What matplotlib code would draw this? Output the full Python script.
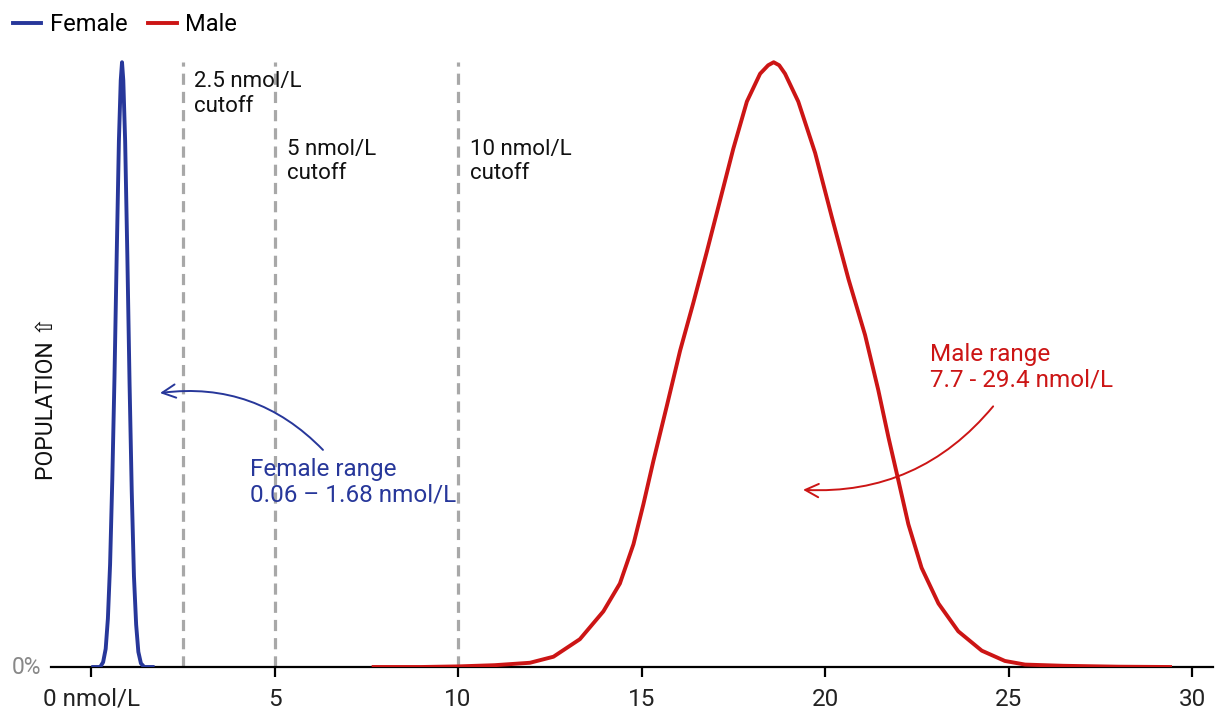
import matplotlib.pyplot as plt

plt.rcParams['font.family'] = ['Roboto', 'DejaVu Sans']

# Relative population density (peak = 1)
female_x = [0.06, 0.25, 0.33, 0.40, 0.46, 0.52, 0.58, 0.64, 0.70, 0.76, 0.81, 0.845,
            0.88, 0.93, 0.99, 1.05, 1.11, 1.17, 1.23, 1.29, 1.36, 1.45, 1.68]
female_y = [0.0, 0.0, 0.008, 0.03, 0.08, 0.17, 0.31, 0.48, 0.68, 0.87, 0.97, 1.0,
            0.97, 0.87, 0.68, 0.47, 0.29, 0.15, 0.07, 0.025, 0.006, 0.0, 0.0]

male_x = [7.7, 9.0, 10.0, 11.0, 11.96, 12.60, 13.32, 13.96, 14.41, 14.78, 15.05,
          15.32, 15.69, 16.05, 16.41, 16.78, 17.14, 17.50, 17.87, 18.23, 18.45,
          18.6, 18.75, 18.91, 19.27, 19.73, 20.18, 20.64, 21.09, 21.45, 21.73,
          22.00, 22.27, 22.63, 23.09, 23.63, 24.27, 24.90, 25.45, 26.5, 28.0, 29.4]
male_y = [0.0, 0.0, 0.001, 0.003, 0.007, 0.017, 0.046, 0.092, 0.138, 0.203, 0.269,
          0.340, 0.432, 0.523, 0.602, 0.687, 0.772, 0.857, 0.935, 0.981, 0.995,
          1.0, 0.995, 0.981, 0.935, 0.850, 0.745, 0.641, 0.549, 0.458, 0.379,
          0.308, 0.236, 0.164, 0.105, 0.059, 0.027, 0.010, 0.004, 0.002, 0.0005, 0.0]

cutoffs = [2.5, 5, 10]
cutoff_labels = ['2.5 nmol/L\ncutoff', '5 nmol/L\ncutoff', '10 nmol/L\ncutoff']

ticks = [0, 5, 10, 15, 20, 25, 30]
tick_labels = ['0 nmol/L', '5', '10', '15', '20', '25', '30']

blue = '#27379a'
red = '#cc1515'

fig = plt.figure(figsize=(12.21, 7.18), dpi=100)
ax = fig.add_axes([51 / 1221, 51 / 718, (1213 - 51) / 1221, (667 - 32) / 718])

# cutoff lines
for c in cutoffs:
    ax.plot([c, c], [0, 1.0], color='#a8a8a8', lw=2.3, ls=(0, (3.5, 2.2)), zorder=1)

ax.plot(female_x, female_y, color=blue, lw=2.8, label='Female', zorder=3,
        solid_joinstyle='round')
ax.plot(male_x, male_y, color=red, lw=2.8, label='Male', zorder=3,
        solid_joinstyle='round')

# cutoff labels
ax.text(2.81, 0.985, cutoff_labels[0], fontsize=16, va='top', ha='left',
        color='#111111', linespacing=1.2)
ax.text(5.34, 0.873, cutoff_labels[1], fontsize=16, va='top', ha='left',
        color='#111111', linespacing=1.2)
ax.text(10.33, 0.873, cutoff_labels[2], fontsize=16, va='top', ha='left',
        color='#111111', linespacing=1.2)

# range annotations
ax.text(4.33, 0.345, 'Female range\n0.06 \u2013 1.68 nmol/L', fontsize=17.5,
        va='top', ha='left', color=blue, linespacing=1.1)
ax.annotate('', xy=(1.88, 0.453), xytext=(6.32, 0.359),
            arrowprops=dict(arrowstyle='->', color=blue, lw=1.4,
                            connectionstyle='arc3,rad=0.25',
                            mutation_scale=24, shrinkA=0, shrinkB=0))

ax.text(22.86, 0.535, 'Male range\n7.7 - 29.4 nmol/L', fontsize=17.5,
        va='top', ha='left', color=red, linespacing=1.1)
ax.annotate('', xy=(19.40, 0.293), xytext=(24.58, 0.431),
            arrowprops=dict(arrowstyle='->', color=red, lw=1.4,
                            connectionstyle='arc3,rad=-0.25',
                            mutation_scale=24, shrinkA=0, shrinkB=0))

ax.set_xlim(-1.09, 30.57)
ax.set_ylim(0, 1.05)
for s in ['top', 'right', 'left']:
    ax.spines[s].set_visible(False)
ax.spines['bottom'].set_linewidth(1.6)
ax.set_xticks(ticks)
ax.set_xticklabels(tick_labels, fontsize=17.5, color='#222222')
ax.tick_params(axis='x', length=7, width=1.6, pad=8)
ax.set_yticks([])

fig.text(41 / 1221, 1 - 667 / 718, '0%', fontsize=16.5, color='#888888',
         ha='right', va='center')
fig.text(47 / 1221, 1 - 398 / 718, 'POPULATION \u21e7', fontsize=16.5,
         rotation=90, ha='center', va='center', color='#111111')

fig.legend(loc='upper left', bbox_to_anchor=(0.0, 1.0), ncol=2, frameon=False,
           fontsize=17, handlelength=1.2, handletextpad=0.35, columnspacing=0.9,
           borderaxespad=0.15)

fig.savefig('out.png', dpi=100)
